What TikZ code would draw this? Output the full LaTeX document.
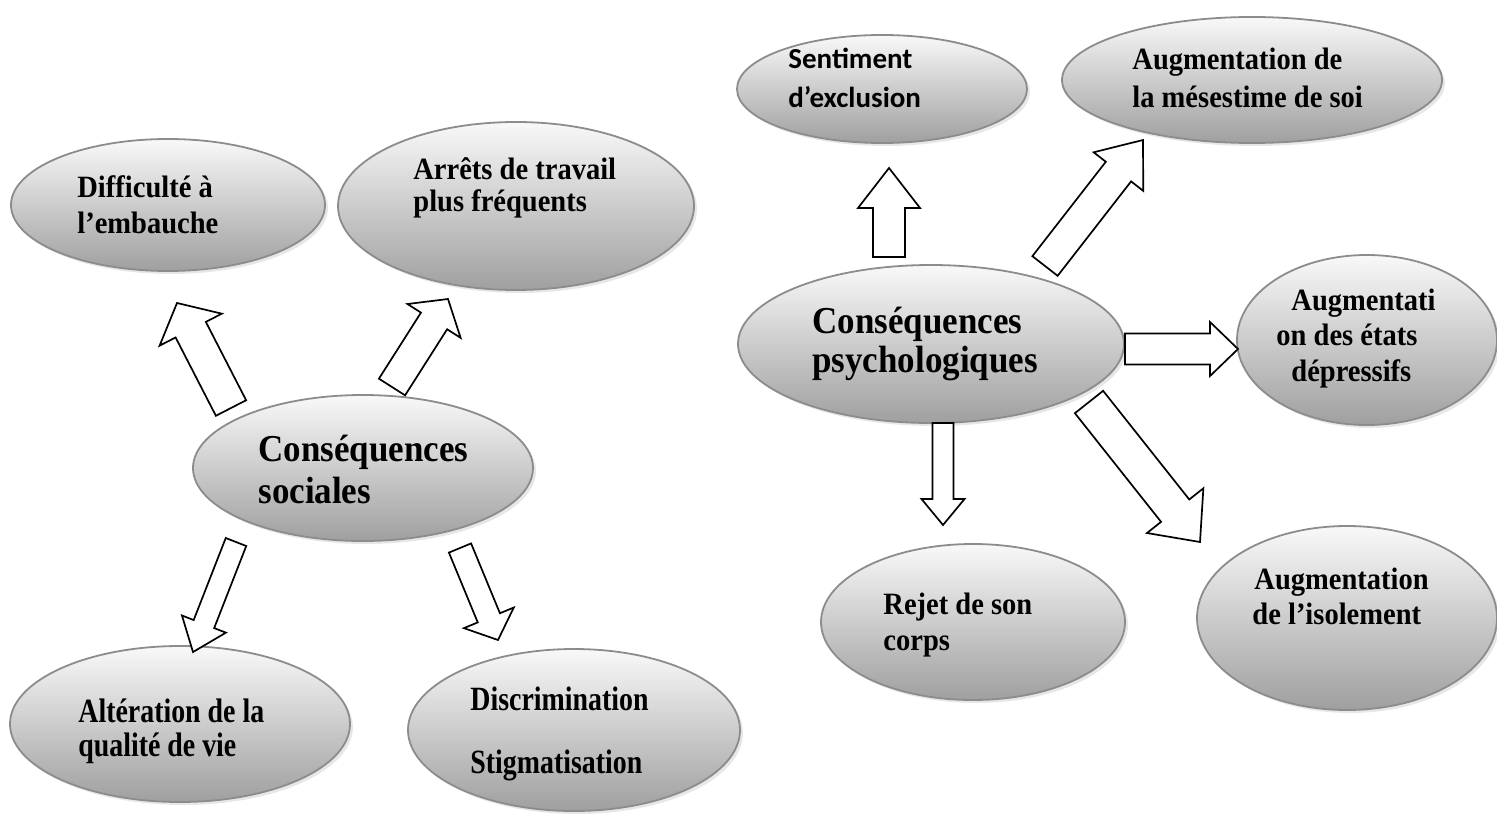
\documentclass[tikz,border=0pt]{standalone}
\usepackage{fontspec}
\setmainfont{Liberation Serif}
\newfontfamily\cam[FakeStretch=0.92]{Liberation Serif}
\newfontfamily\camc[FakeStretch=0.82]{Liberation Serif}
\newfontfamily\calib{Carlito}
\usetikzlibrary{shapes.geometric,shadows,calc}
\newcommand\blockarrow[5]{%
  \coordinate (bh) at ($(#2)!#5!(#1)$);
  \draw[blockarr] ($(#1)!#3!90:(#2)$) -- ($(bh)!#3!90:(#2)$) -- ($(bh)!#4!90:(#2)$) -- (#2)
    -- ($(bh)!#4!-90:(#2)$) -- ($(bh)!#3!-90:(#2)$) -- ($(#1)!#3!-90:(#2)$) -- cycle;}
\begin{document}
\begin{tikzpicture}[x=0.5pt,y=-0.5pt,
  bubble/.style 2 args={ellipse, draw=gray!90, line width=0.9pt, top color=gray!5,
    bottom color=gray!75, inner sep=0pt, minimum width=#1pt, minimum height=#2pt,
    drop shadow={shadow xshift=1.5pt, shadow yshift=-1.5pt, fill=black!18}},
  txt/.style={font=\cam\bfseries\fontsize{15.5}{18}\selectfont, anchor=base west, inner sep=0pt},
  cond/.style={font=\camc\bfseries\fontsize{17}{20}\selectfont, anchor=base west, inner sep=0pt},
  big/.style={font=\cam\bfseries\fontsize{19}{22}\selectfont, anchor=base west, inner sep=0pt},
  cal/.style={font=\calib\bfseries\fontsize{14.5}{17}\selectfont, anchor=base west, inner sep=0pt},
  blockarr/.style={draw=black, line width=0.85pt, fill=white, line join=miter}]
\fill[white] (0,0) rectangle (1497,830);
\useasboundingbox (0,0) rectangle (1497,830);

% ellipses
\node[bubble={157}{66}] (e1) at (168,205) {};
\node[bubble={178}{84}] (e2) at (516,206) {};
\node[bubble={170}{73}] (e3) at (363,468) {};
\node[bubble={170}{78}] (e4) at (180,724) {};
\node[bubble={166}{81}] (e5) at (574,730) {};
\node[bubble={145}{54}] (e6) at (882,89) {};
\node[bubble={190}{63}] (e7) at (1252,80) {};
\node[bubble={193}{79}] (e8) at (931,344) {};
\node[bubble={130}{85}] (e9) at (1367,340) {};
\node[bubble={152}{78}] (e10) at (973,622) {};
\node[bubble={150}{92}] (e11) at (1347,618) {};

% texts
\node[txt] (t1a) at (77,197) {Difficulté à};
\node[txt] (t1b) at (77,233) {l’embauche};
\node[txt] (t2a) at (413,179) {Arrêts de travail};
\node[txt] (t2b) at (413,211) {plus fréquents};
\node[big] (t3a) at (258,461) {Conséquences};
\node[big] (t3b) at (258,503) {sociales};
\node[cond] (t4a) at (78,722) {Altération de la};
\node[cond] (t4b) at (78,756) {qualité de vie};
\node[cond] (t5a) at (470,710) {Discrimination};
\node[cond] (t5b) at (470,773) {Stigmatisation};
\node[cal] (t6a) at (788,68) {Sentiment};
\node[cal] (t6b) at (788,107) {d’exclusion};
\node[txt] (t7a) at (1132,69) {Augmentation de};
\node[txt] (t7b) at (1132,107) {la mésestime de soi};
\node[big] (t8a) at (812,333) {Conséquences};
\node[big] (t8b) at (812,372) {psychologiques};
\node[txt] (t9a) at (1291,310) {Augmentati};
\node[txt] (t9b) at (1276,345) {on des états};
\node[txt] (t9c) at (1291,381) {dépressifs};
\node[txt] (t10a) at (883,614) {Rejet de son};
\node[txt] (t10b) at (883,650) {corps};
\node[txt] (t11a) at (1254,589) {Augmentation};
\node[txt] (t11b) at (1252,624) {de l’isolement};

% arrow end points
\coordinate (a1t) at (231,408); \coordinate (a1p) at (177,303);
\coordinate (a2t) at (392,387); \coordinate (a2p) at (448,299);
\coordinate (a3t) at (236,542); \coordinate (a3p) at (193,652);
\coordinate (a4t) at (460,548); \coordinate (a4p) at (498,640);
\coordinate (a5t) at (889,257); \coordinate (a5p) at (889,168);
\coordinate (a6t) at (1045,266); \coordinate (a6p) at (1143,140);
\coordinate (a7t) at (1125,349); \coordinate (a7p) at (1238,349);
\coordinate (a8t) at (1089,402); \coordinate (a8p) at (1200,542);
\coordinate (a9t) at (943,423); \coordinate (a9p) at (943,525);

\blockarrow{a1t}{a1p}{8.5pt}{17.5pt}{15pt}
\blockarrow{a2t}{a2p}{7.75pt}{15.75pt}{13pt}
\blockarrow{a3t}{a3p}{5.5pt}{11.8pt}{15pt}
\blockarrow{a4t}{a4p}{6pt}{13.5pt}{12pt}
\blockarrow{a5t}{a5p}{8pt}{15.5pt}{20pt}
\blockarrow{a6t}{a6p}{8pt}{15.7pt}{20pt}
\blockarrow{a7t}{a7p}{7.75pt}{13.5pt}{14pt}
\blockarrow{a8t}{a8p}{9pt}{18pt}{20pt}
\blockarrow{a9t}{a9p}{5.25pt}{10.75pt}{13pt}
\end{tikzpicture}
\end{document}
